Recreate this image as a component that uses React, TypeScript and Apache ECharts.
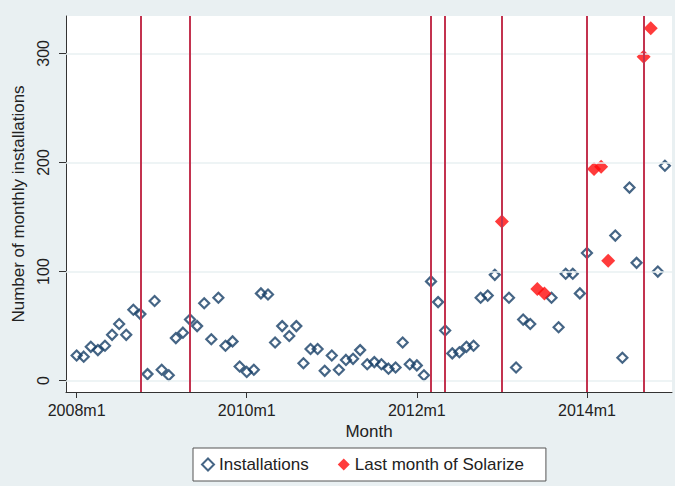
import React, { useEffect, useRef } from "react";
import * as echarts from "echarts";

// Monthly installations, index 0 = 2008m1 ... 83 = 2014m12
const installations = [
  23, 22, 31, 28, 32, 42, 52, 42, 65, 61, 6, 73,
  10, 5, 39, 44, 56, 50, 71, 38, 76, 32, 36, 13,
  8, 10, 80, 79, 35, 50, 41, 50, 16, 29, 29, 9,
  23, 10, 19, 20, 28, 15, 17, 15, 11, 12, 35, 15,
  14, 5, 91, 72, 46, 25, 26, 31, 32, 76, 78, 97,
  146, 76, 12, 56, 52, 84, 80, 76, 49, 98, 98, 80,
  117, 194, 196, 110, 133, 21, 177, 108, 297, 323, 100, 197,
];
// Months (indices) that were the last month of a Solarize program
const solarizeMonths = [60, 65, 66, 73, 74, 75, 80, 81];
// Vertical reference lines (month indices)
const programLines = [9, 16, 50, 52, 60, 72, 80];

const xTickValues = [0, 24, 48, 72];
const xTickLabels = ["2008m1", "2010m1", "2012m1", "2014m1"];
const yTickValues = [0, 100, 200, 300];

const BG = "#e9f0f2";
const NAVY = "#173f66";
const RED = "#ff0a0a";
const LINE = "#c3334f";
const TEXT = "#222";
const FONT = "'Liberation Sans', Arial, sans-serif";

export default function App() {
  const ref = useRef<HTMLDivElement>(null);
  useEffect(() => {
    if (!ref.current) return;
    const chart = echarts.init(ref.current, undefined, { renderer: "svg" });
    const blueData = installations
      .map((v, i) => [i, v])
      .filter((d) => !solarizeMonths.includes(d[0] as number));
    const redData = solarizeMonths.map((m) => [m, installations[m]]);
    chart.setOption({
      animation: false,
      backgroundColor: BG,
      textStyle: { fontFamily: FONT, color: TEXT },
      grid: {
        left: 66,
        right: 3,
        top: 16,
        bottom: 94,
        show: true,
        backgroundColor: "#ffffff",
        borderWidth: 0,
      },
      legend: {
        data: ["Installations", "Last month of Solarize"],
        left: 193,
        top: 448,
        orient: "horizontal",
        backgroundColor: "#ffffff",
        borderColor: "#555",
        borderWidth: 1,
        padding: [8, 22, 8, 8],
        itemWidth: 12,
        itemHeight: 12,
        itemGap: 29,
        textStyle: { fontSize: 17, color: TEXT, fontFamily: FONT },
      },
      xAxis: {
        type: "value",
        min: -1.5,
        max: 84,
        name: "Month",
        nameLocation: "middle",
        nameGap: 28,
        nameTextStyle: { fontSize: 17, color: TEXT, fontFamily: FONT },
        axisLine: { show: true, onZero: false, lineStyle: { color: "#333", width: 1 } },
        axisTick: {
          show: true,
          length: 6,
          customValues: xTickValues,
          lineStyle: { color: "#333" },
        },
        axisLabel: {
          customValues: xTickValues,
          margin: 10,
          fontSize: 16,
          color: TEXT,
          fontFamily: FONT,
          formatter: (v: number) => {
            const i = xTickValues.indexOf(Math.round(v));
            return i >= 0 ? xTickLabels[i] : "";
          },
        },
        splitLine: { show: false },
      },
      yAxis: {
        type: "value",
        min: -10.4,
        max: 334.3,
        name: "Number of monthly installations",
        nameLocation: "middle",
        nameGap: 34,
        nameTextStyle: { fontSize: 17, color: TEXT, fontFamily: FONT },
        axisLine: { show: true, onZero: false, lineStyle: { color: "#333", width: 1 } },
        axisTick: {
          show: true,
          length: 7,
          customValues: yTickValues,
          lineStyle: { color: "#333" },
        },
        axisLabel: {
          customValues: yTickValues,
          rotate: 90,
          margin: 15,
          fontSize: 16,
          color: TEXT,
          fontFamily: FONT,
        },
        splitLine: { show: false },
      },
      series: [
        {
          name: "gridlines",
          type: "line",
          data: [],
          z: 1,
          silent: true,
          markLine: {
            silent: true,
            symbol: ["none", "none"],
            label: { show: false },
            lineStyle: { color: BG, width: 1.5, type: "solid" },
            data: yTickValues.map((v) => ({ yAxis: v })),
          },
        },
        {
          name: "programs",
          type: "line",
          data: [],
          z: 2,
          silent: true,
          markLine: {
            silent: true,
            symbol: ["none", "none"],
            label: { show: false },
            lineStyle: { color: LINE, width: 2, type: "solid" },
            data: programLines.map((m) => ({ xAxis: m })),
          },
        },
        {
          name: "Installations",
          type: "scatter",
          z: 3,
          symbol: "diamond",
          symbolSize: 10,
          itemStyle: {
            color: "rgba(255,255,255,0)",
            borderColor: NAVY,
            borderWidth: 2.2,
          },
          data: blueData,
        },
        {
          name: "Last month of Solarize",
          type: "scatter",
          z: 4,
          symbol: "diamond",
          symbolSize: 14,
          itemStyle: { color: RED },
          data: redData,
        },
      ],
    });
    return () => chart.dispose();
  }, []);
  return (
    <div
      ref={ref}
      style={{ position: "absolute", left: 0, top: 0, width: 675, height: 486 }}
    />
  );
}
